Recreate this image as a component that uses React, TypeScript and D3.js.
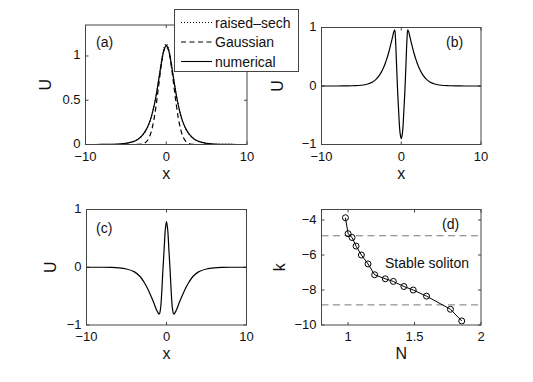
import React, { useEffect, useRef } from 'react';
import * as d3 from 'd3';

// panel (a): soliton profile and the two trial functions
const xA = [-10, -8, -6, -5, -4, -3.5, -3, -2.5, -2, -1.5, -1.2, -0.9, -0.6, -0.3, 0, 0.3, 0.6, 0.9, 1.2, 1.5, 2, 2.5, 3, 3.5, 4, 5, 6, 8, 10];
const numericalA = [0, 0.0005, 0.004, 0.012, 0.035, 0.06, 0.1, 0.165, 0.27, 0.44, 0.58, 0.75, 0.92, 1.06, 1.12, 1.06, 0.92, 0.75, 0.58, 0.44, 0.27, 0.165, 0.1, 0.06, 0.035, 0.012, 0.004, 0.0005, 0];
const raisedSechA = [0, 0.0005, 0.004, 0.012, 0.034, 0.058, 0.097, 0.16, 0.265, 0.44, 0.585, 0.76, 0.935, 1.08, 1.14, 1.08, 0.935, 0.76, 0.585, 0.44, 0.265, 0.16, 0.097, 0.058, 0.034, 0.012, 0.004, 0.0005, 0];
const xGauss = [-10, -5, -4, -3.5, -3, -2.7, -2.4, -2.1, -1.8, -1.5, -1.2, -0.9, -0.6, -0.3, 0, 0.3, 0.6, 0.9, 1.2, 1.5, 1.8, 2.1, 2.4, 2.7, 3, 3.5, 4, 5, 10];
const gaussianA = [0, 0, 0, 0.001, 0.005, 0.015, 0.037, 0.082, 0.165, 0.296, 0.478, 0.694, 0.905, 1.062, 1.12, 1.062, 0.905, 0.694, 0.478, 0.296, 0.165, 0.082, 0.037, 0.015, 0.005, 0.001, 0, 0, 0];

// panel (b)
const xB = [-10, -8, -7, -6, -5, -4.2, -3.6, -3.2, -2.7, -2.2, -1.9, -1.6, -1.3, -1.1, -0.95, -0.82, -0.72, -0.6, -0.45, -0.3, -0.15, 0, 0.15, 0.3, 0.45, 0.6, 0.72, 0.82, 0.95, 1.1, 1.3, 1.6, 1.9, 2.2, 2.7, 3.2, 3.6, 4.2, 5, 6, 7, 8, 10];
const profileB = [0, 0, 0.001, 0.004, 0.013, 0.035, 0.07, 0.11, 0.19, 0.32, 0.43, 0.56, 0.72, 0.83, 0.92, 0.96, 0.8, 0.4, -0.1, -0.5, -0.8, -0.9, -0.8, -0.5, -0.1, 0.4, 0.8, 0.96, 0.92, 0.83, 0.72, 0.56, 0.43, 0.32, 0.19, 0.11, 0.07, 0.035, 0.013, 0.004, 0.001, 0, 0];

// panel (c)
const xC = [-10, -8, -7, -6, -5, -4, -3.3, -2.8, -2.4, -2, -1.6, -1.3, -1.05, -0.9, -0.75, -0.6, -0.45, -0.3, -0.15, 0, 0.15, 0.3, 0.45, 0.6, 0.75, 0.9, 1.05, 1.3, 1.6, 2, 2.4, 2.8, 3.3, 4, 5, 6, 7, 8, 10];
const profileC = [0, 0, -0.003, -0.01, -0.03, -0.08, -0.16, -0.26, -0.36, -0.48, -0.61, -0.72, -0.79, -0.81, -0.72, -0.45, -0.05, 0.3, 0.65, 0.79, 0.65, 0.3, -0.05, -0.45, -0.72, -0.81, -0.79, -0.72, -0.61, -0.48, -0.36, -0.26, -0.16, -0.08, -0.03, -0.01, -0.003, 0, 0];

// panel (d): propagation constant vs norm
const powerN = [0.98, 1.0, 1.03, 1.06, 1.1, 1.15, 1.2, 1.28, 1.34, 1.42, 1.49, 1.59, 1.77, 1.855];
const waveK = [-3.87, -4.78, -5.0, -5.49, -6.0, -6.51, -7.13, -7.36, -7.51, -7.8, -8.0, -8.35, -9.1, -9.77];
const stableBounds = [-4.9, -8.85];

const legendLabels = ['raised–sech', 'Gaussian', 'numerical'];

const FONT = '"Liberation Sans", Arial, Helvetica, sans-serif';
const fmt = (v: number) => (v < 0 ? '\u2212' + Math.abs(v) : String(v));

const App = () => {
  const svgRef = useRef<SVGSVGElement>(null);

  useEffect(() => {
    const svg = d3.select(svgRef.current);
    svg.selectAll('*').remove();
    svg.append('rect').attr('width', 533).attr('height', 382).attr('fill', 'white');

    const panels = [
      {
        id: 'a', box: [85.5, 247, 25, 144.5], xd: [-10, 10], yd: [0, 1.35],
        xt: [-10, 0, 10], yt: [0, 0.5, 1], xl: 'x', yl: 'U', ylx: 45, tag: [96, 47],
      },
      {
        id: 'b', box: [321.5, 481, 27.5, 144.5], xd: [-10, 10], yd: [-1, 1],
        xt: [-10, 0, 10], yt: [-1, 0, 1], xl: 'x', yl: 'U', ylx: 277, tag: [446, 47],
      },
      {
        id: 'c', box: [86.5, 246.5, 209.5, 325], xd: [-10, 10], yd: [-1, 1],
        xt: [-10, 0, 10], yt: [-1, 0, 1], xl: 'x', yl: 'U', ylx: 50, tag: [96, 233],
      },
      {
        id: 'd', box: [321.5, 481, 209.5, 325], xd: [0.8, 2], yd: [-10, -3.4],
        xt: [1, 1.5, 2], yt: [-10, -8, -6, -4], xl: 'N', yl: 'k', ylx: 279, tag: [442, 229],
      },
    ];

    const scales: any = {};

    panels.forEach((p) => {
      const [x0, x1, y0, y1] = p.box;
      const x = d3.scaleLinear().domain(p.xd).range([x0, x1]);
      const y = d3.scaleLinear().domain(p.yd).range([y1, y0]);
      scales[p.id] = { x, y };
      const g = svg.append('g').attr('font-family', FONT);

      // ticks, inward on all four sides
      const tk = 3;
      p.xt.forEach((t) => {
        g.append('line').attr('x1', x(t)).attr('x2', x(t)).attr('y1', y1).attr('y2', y1 - tk).attr('stroke', '#444');
        g.append('line').attr('x1', x(t)).attr('x2', x(t)).attr('y1', y0).attr('y2', y0 + tk).attr('stroke', '#444');
        g.append('text').attr('x', x(t)).attr('y', y1 + 16).attr('text-anchor', 'middle')
          .attr('font-size', 13).attr('fill', '#111').text(fmt(t));
      });
      p.yt.forEach((t) => {
        g.append('line').attr('x1', x0).attr('x2', x0 + tk).attr('y1', y(t)).attr('y2', y(t)).attr('stroke', '#444');
        g.append('line').attr('x1', x1).attr('x2', x1 - tk).attr('y1', y(t)).attr('y2', y(t)).attr('stroke', '#444');
        g.append('text').attr('x', x0 - 5).attr('y', y(t) + 3.5).attr('text-anchor', 'end')
          .attr('font-size', 13).attr('fill', '#111').text(fmt(t));
      });

      g.append('text').attr('x', (x0 + x1) / 2).attr('y', y1 + 34).attr('text-anchor', 'middle')
        .attr('font-size', 16).attr('fill', '#111').text(p.xl);
      g.append('text').attr('transform', `translate(${p.ylx},${(y0 + y1) / 2}) rotate(-90)`)
        .attr('text-anchor', 'middle').attr('dy', '0.35em')
        .attr('font-size', 16).attr('fill', '#111').text(p.yl);
      g.append('text').attr('x', p.tag[0]).attr('y', p.tag[1])
        .attr('font-size', 14).attr('fill', '#111').text(`(${p.id})`);
    });

    const line = (sx: any, sy: any) =>
      d3.line<[number, number]>().x((d) => sx(d[0])).y((d) => sy(d[1])).curve(d3.curveCatmullRom.alpha(0.5));

    const plot = (id: string, xs: number[], ys: number[], dash: string | null) => {
      const { x, y } = scales[id];
      svg.append('path')
        .attr('d', line(x, y)(xs.map((v, i) => [v, ys[i]] as [number, number])))
        .attr('fill', 'none').attr('stroke', '#000').attr('stroke-width', 1.2)
        .attr('stroke-dasharray', dash);
    };

    plot('a', xGauss, gaussianA, '5,3.5');
    plot('a', xA, raisedSechA, '1,2');
    plot('a', xA, numericalA, null);
    plot('b', xB, profileB, null);
    plot('c', xC, profileC, null);

    // panel (d)
    const { x: xd, y: yd } = scales.d;
    stableBounds.forEach((k) => {
      svg.append('line').attr('x1', xd(0.8)).attr('x2', xd(2)).attr('y1', yd(k)).attr('y2', yd(k))
        .attr('stroke', '#777').attr('stroke-width', 1).attr('stroke-dasharray', '7,4.5');
    });
    const pts = powerN.map((n, i) => [n, waveK[i]] as [number, number]);
    svg.append('path')
      .attr('d', d3.line<[number, number]>().x((d) => xd(d[0])).y((d) => yd(d[1]))(pts))
      .attr('fill', 'none').attr('stroke', '#000').attr('stroke-width', 1);
    svg.selectAll('.mk').data(pts).enter().append('circle')
      .attr('cx', (d) => xd(d[0])).attr('cy', (d) => yd(d[1])).attr('r', 3)
      .attr('fill', 'none').attr('stroke', '#000').attr('stroke-width', 1);
    svg.append('text').attr('x', 385).attr('y', 268).attr('font-family', FONT)
      .attr('font-size', 14).attr('fill', '#111').text('Stable soliton');

    // axes boxes on top of the curves
    panels.forEach((p) => {
      const [x0, x1, y0, y1] = p.box;
      svg.append('rect').attr('x', x0).attr('y', y0).attr('width', x1 - x0).attr('height', y1 - y0)
        .attr('fill', 'none').attr('stroke', '#444').attr('stroke-width', 1);
    });

    // legend over panel (a)
    const lg = svg.append('g').attr('font-family', FONT);
    lg.append('rect').attr('x', 174.5).attr('y', 9.5).attr('width', 124).attr('height', 62)
      .attr('fill', 'white').attr('stroke', '#444').attr('stroke-width', 1);
    const dashes = ['1,2', '5,3.5', null];
    legendLabels.forEach((lab, i) => {
      const cy = 22.5 + i * 19.5;
      lg.append('line').attr('x1', 181).attr('x2', 212).attr('y1', cy).attr('y2', cy)
        .attr('stroke', '#000').attr('stroke-width', 1.1).attr('stroke-dasharray', dashes[i]);
      lg.append('text').attr('x', 215).attr('y', cy + 5).attr('font-size', 14).attr('fill', '#111').text(lab);
    });
  }, []);

  return (
    <svg ref={svgRef} width={533} height={382} style={{ position: 'absolute', left: 0, top: 0 }} />
  );
};

export default App;
